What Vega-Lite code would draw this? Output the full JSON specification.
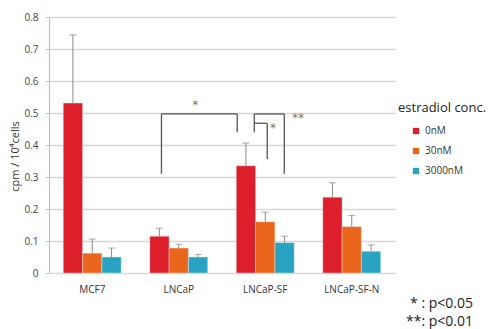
{
  "$schema": "https://vega.github.io/schema/vega-lite/v6.json",
  "width": 346,
  "height": 256,
  "autosize": "none",
  "padding": {"left": 49, "top": 17, "right": 107, "bottom": 56},
  "config": {
    "view": {"stroke": null},
    "font": "Open Sans"
  },
  "title": {
    "text": ["* : p<0.05", "**: p<0.01"],
    "orient": "bottom",
    "anchor": "end",
    "frame": "group",
    "align": "right",
    "dx": 78,
    "offset": 3,
    "fontSize": 14,
    "fontWeight": "normal",
    "font": "Open Sans",
    "color": "#222222",
    "lineHeight": 18
  },
  "datasets": {
    "bars": [
      {"cell": "MCF7", "conc": "0nM", "value": 0.531, "err": 0.744},
      {"cell": "MCF7", "conc": "30nM", "value": 0.062, "err": 0.106},
      {"cell": "MCF7", "conc": "3000nM", "value": 0.05, "err": 0.078},
      {"cell": "LNCaP", "conc": "0nM", "value": 0.115, "err": 0.14},
      {"cell": "LNCaP", "conc": "30nM", "value": 0.078, "err": 0.09},
      {"cell": "LNCaP", "conc": "3000nM", "value": 0.05, "err": 0.058},
      {"cell": "LNCaP-SF", "conc": "0nM", "value": 0.335, "err": 0.406},
      {"cell": "LNCaP-SF", "conc": "30nM", "value": 0.16, "err": 0.19},
      {"cell": "LNCaP-SF", "conc": "3000nM", "value": 0.095, "err": 0.115},
      {"cell": "LNCaP-SF-N", "conc": "0nM", "value": 0.237, "err": 0.282},
      {"cell": "LNCaP-SF-N", "conc": "30nM", "value": 0.145, "err": 0.18},
      {"cell": "LNCaP-SF-N", "conc": "3000nM", "value": 0.068, "err": 0.088}
    ],
    "brackets": [
      {"u": 1.3, "u2": 1.3, "value": 0.31, "err": 0.497},
      {"u": 1.3, "u2": 2.176, "value": 0.497, "err": 0.497},
      {"u": 2.176, "u2": 2.176, "value": 0.44, "err": 0.497},
      {"u": 2.373, "u2": 2.373, "value": 0.44, "err": 0.497},
      {"u": 2.373, "u2": 2.72, "value": 0.497, "err": 0.497},
      {"u": 2.72, "u2": 2.72, "value": 0.31, "err": 0.497},
      {"u": 2.373, "u2": 2.523, "value": 0.468, "err": 0.468},
      {"u": 2.523, "u2": 2.523, "value": 0.356, "err": 0.468}
    ],
    "stars": [
      {"u": 1.69, "value": 0.525, "label": "*"},
      {"u": 2.59, "value": 0.453, "label": "*"},
      {"u": 2.88, "value": 0.485, "label": "**"}
    ]
  },
  "encoding": {
    "y": {
      "field": "value",
      "type": "quantitative",
      "scale": {"domain": [0, 0.8], "nice": false},
      "axis": {
        "title": "cpm / 10⁴cells",
        "titleFont": "Open Sans",
        "titleFontSize": 11,
        "titleFontWeight": "normal",
        "titleColor": "#333333",
        "titleAngle": -90,
        "titleX": -34,
        "titleY": 139,
        "titleAlign": "center",
        "titleBaseline": "middle",
        "values": [0, 0.1, 0.2, 0.3, 0.4, 0.5, 0.6, 0.7, 0.8],
        "format": "~g",
        "labelFont": "Open Sans",
        "labelFontSize": 10,
        "labelColor": "#444444",
        "labelPadding": 7,
        "labelOverlap": false,
        "tickSize": 4,
        "tickColor": "#cccccc",
        "domainColor": "#bbbbbb",
        "gridColor": "#d6d6d6",
        "gridWidth": 1.5
      }
    }
  },
  "layer": [
    {
      "data": {"name": "bars"},
      "encoding": {
        "x": {
          "field": "cell",
          "type": "nominal",
          "sort": ["MCF7", "LNCaP", "LNCaP-SF", "LNCaP-SF-N"],
          "scale": {"paddingInner": 0.33, "paddingOuter": 0.165},
          "axis": {
            "title": null,
            "labelAngle": 0,
            "ticks": false,
            "domain": false,
            "labelPadding": 11,
            "labelFont": "Open Sans",
            "labelFontSize": 10,
            "labelColor": "#333333"
          }
        },
        "xOffset": {
          "field": "conc",
          "type": "nominal",
          "sort": ["0nM", "30nM", "3000nM"],
          "scale": {"paddingInner": 0, "paddingOuter": 0}
        }
      },
      "layer": [
        {
          "mark": {"type": "bar", "strokeWidth": 1, "strokeOpacity": 0.35, "stroke": "#ffffff"},
          "encoding": {
            "color": {
              "field": "conc",
              "type": "nominal",
              "sort": ["0nM", "30nM", "3000nM"],
              "scale": {
                "domain": ["0nM", "30nM", "3000nM"],
                "range": ["#dc1f2b", "#eb661d", "#2aa3c2"]
              },
              "legend": {
                "title": "estradiol conc.",
                "orient": "none",
                "legendX": 349,
                "legendY": 85,
                "titleFontSize": 13,
                "titleFontWeight": "normal",
                "titleColor": "#222222",
                "titlePadding": 11,
                "symbolType": "square",
                "symbolSize": 40,
                "symbolOffset": 13,
                "symbolStrokeWidth": 0,
                "labelFontSize": 10,
                "labelColor": "#333333",
                "labelOffset": 4,
                "rowPadding": 10,
                "offset": 0,
                "padding": 0
              }
            }
          }
        },
        {
          "mark": {"type": "rule", "color": "#8a8a8a", "strokeWidth": 1},
          "encoding": {
            "y2": {"field": "err"}
          }
        },
        {
          "mark": {"type": "tick", "color": "#8a8a8a", "thickness": 1, "size": 7},
          "encoding": {
            "y": {"field": "err", "type": "quantitative"}
          }
        }
      ]
    },
    {
      "data": {"name": "brackets"},
      "mark": {"type": "rule", "color": "#555555", "strokeWidth": 1.3},
      "encoding": {
        "x": {"field": "u", "type": "quantitative", "scale": {"domain": [0, 4]}, "axis": null},
        "x2": {"field": "u2"},
        "y2": {"field": "err"}
      }
    },
    {
      "data": {"name": "stars"},
      "mark": {"type": "text", "color": "#777777", "fontSize": 12, "font": "DejaVu Sans"},
      "encoding": {
        "x": {"field": "u", "type": "quantitative", "scale": {"domain": [0, 4]}, "axis": null},
        "text": {"field": "label"}
      }
    }
  ],
  "resolve": {"scale": {"x": "independent"}}
}
